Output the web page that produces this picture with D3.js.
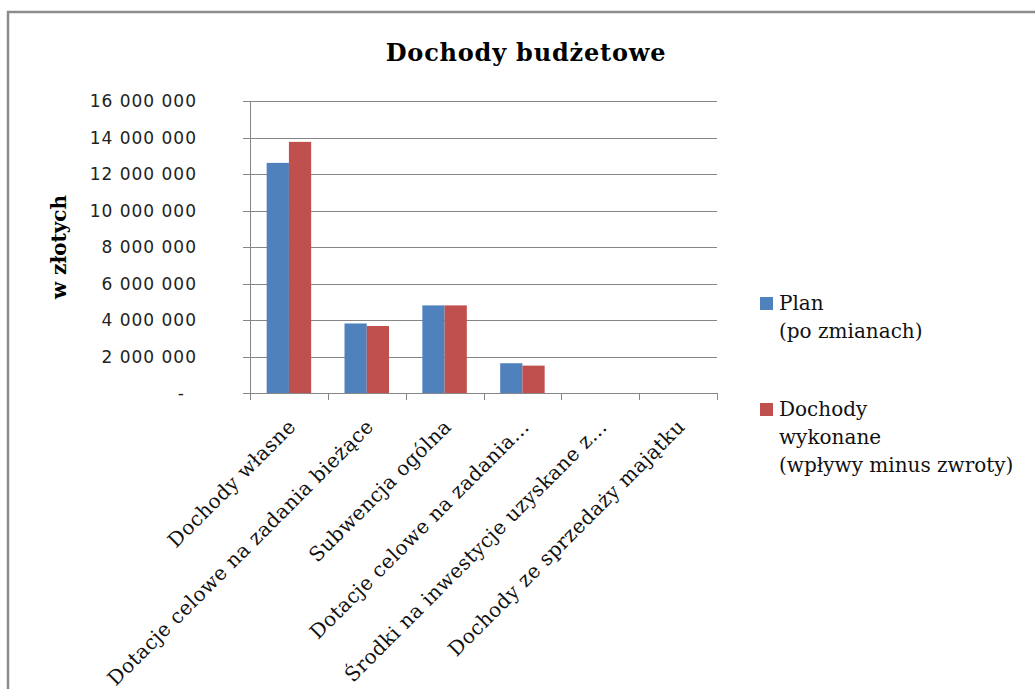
<!DOCTYPE html>
<html>
<head>
<meta charset="utf-8">
<script src="https://cdn.jsdelivr.net/npm/d3@7"></script>
<style>
  body { margin: 0; background: #fff; }
  svg { display: block; }
</style>
</head>
<body>
<svg id="chart" width="1035" height="689"></svg>
<script>
// ---- data ----
const categories = [
  "Dochody własne",
  "Dotacje celowe na zadania bieżące",
  "Subwencja ogólna",
  "Dotacje celowe na zadania…",
  "Środki na inwestycje uzyskane z…",
  "Dochody ze sprzedaży majątku"
];
const seriesNames = [["Plan", "(po zmianach)"], ["Dochody", "wykonane", "(wpływy minus zwroty)"]];
const planValues = [12610000, 3810000, 4800000, 1630000, 0, 0];
const wykonaneValues = [13760000, 3670000, 4800000, 1500000, 0, 0];
const yTicks = [0, 2000000, 4000000, 6000000, 8000000, 10000000, 12000000, 14000000, 16000000];
const yTickLabels = ["-", "2 000 000", "4 000 000", "6 000 000", "8 000 000", "10 000 000", "12 000 000", "14 000 000", "16 000 000"];
const colors = ["#4F81BD", "#C0504D"];
const titleText = "Dochody budżetowe";
const yTitleText = "w złotych";

// ---- layout ----
const svg = d3.select("#chart");
const plot = { left: 250, right: 717, top: 101, bottom: 393 };

// frame
svg.append("rect").attr("x", 8).attr("y", 12).attr("width", 1100).attr("height", 760)
  .attr("fill", "#fff").attr("stroke", "#8c8c8c").attr("stroke-width", 2.5);

const x = d3.scaleBand().domain(categories).range([plot.left, plot.right]).paddingInner(0).paddingOuter(0);
const y = d3.scaleLinear().domain([0, 16000000]).range([plot.bottom, plot.top]);
const barW = x.bandwidth() / 3.5;
const series = [planValues, wykonaneValues];

// gridlines
svg.append("g").selectAll("line").data(yTicks).join("line")
  .attr("x1", plot.left - 7).attr("x2", plot.right)
  .attr("y1", d => Math.round(y(d)) + 0.5).attr("y2", d => Math.round(y(d)) + 0.5)
  .attr("stroke", "#868686").attr("stroke-width", 1);

// y axis line
svg.append("line").attr("x1", plot.left + 0.5).attr("x2", plot.left + 0.5)
  .attr("y1", plot.top).attr("y2", plot.bottom + 1)
  .attr("stroke", "#868686");

// x tick marks
const bounds = categories.map(c => x(c)).concat([plot.right]);
svg.append("g").selectAll("line").data(bounds).join("line")
  .attr("x1", d => Math.round(d) + 0.5).attr("x2", d => Math.round(d) + 0.5)
  .attr("y1", plot.bottom).attr("y2", plot.bottom + 7)
  .attr("stroke", "#868686");

// bars
series.forEach((vals, si) => {
  svg.append("g").selectAll("rect").data(vals).join("rect")
    .attr("x", (d, i) => x(categories[i]) + barW * 0.75 + si * barW)
    .attr("width", barW)
    .attr("y", d => y(d))
    .attr("height", d => plot.bottom - y(d))
    .attr("fill", colors[si]);
});

// y tick labels
svg.append("g").selectAll("text").data(yTicks).join("text")
  .attr("x", (d, i) => d === 0 ? 185 : 197)
  .attr("y", d => y(d))
  .attr("dy", "0.36em")
  .attr("text-anchor", "end")
  .attr("font-family", "DejaVu Sans")
  .attr("font-size", 17)
  .attr("letter-spacing", 1)
  .attr("fill", "#222")
  .text((d, i) => yTickLabels[i]);

// x labels (rotated)
svg.append("g").selectAll("text").data(categories).join("text")
  .attr("transform", d => `translate(${x(d) + x.bandwidth() / 2 + 3},423) rotate(-45)`)
  .attr("dy", "0.35em")
  .attr("text-anchor", "end")
  .attr("font-family", "DejaVu Serif")
  .attr("font-size", 20)
  .attr("letter-spacing", 0.4)
  .attr("fill", "#111")
  .text(d => d);

// title
svg.append("text").attr("x", 526).attr("y", 61)
  .attr("text-anchor", "middle")
  .attr("font-family", "DejaVu Serif")
  .attr("font-weight", "bold")
  .attr("font-size", 24)
  .attr("letter-spacing", 0.8)
  .attr("fill", "#000")
  .text(titleText);

// y-axis title
svg.append("text").attr("transform", "translate(66,247) rotate(-90)")
  .attr("text-anchor", "middle")
  .attr("font-family", "DejaVu Serif")
  .attr("font-weight", "bold")
  .attr("font-size", 20)
  .attr("fill", "#000")
  .text(yTitleText);

// legend
const legendTops = [297, 403];
seriesNames.forEach((lines, si) => {
  svg.append("rect").attr("x", 760).attr("y", legendTops[si]).attr("width", 13).attr("height", 13)
    .attr("fill", colors[si]);
  const t = svg.append("text")
    .attr("font-family", "DejaVu Serif")
    .attr("font-size", 20)
    .attr("fill", "#111");
  lines.forEach((ln, li) => {
    t.append("tspan").attr("x", 779).attr("y", legendTops[si] + 13 + li * 28).text(ln);
  });
});
</script>
</body>
</html>
